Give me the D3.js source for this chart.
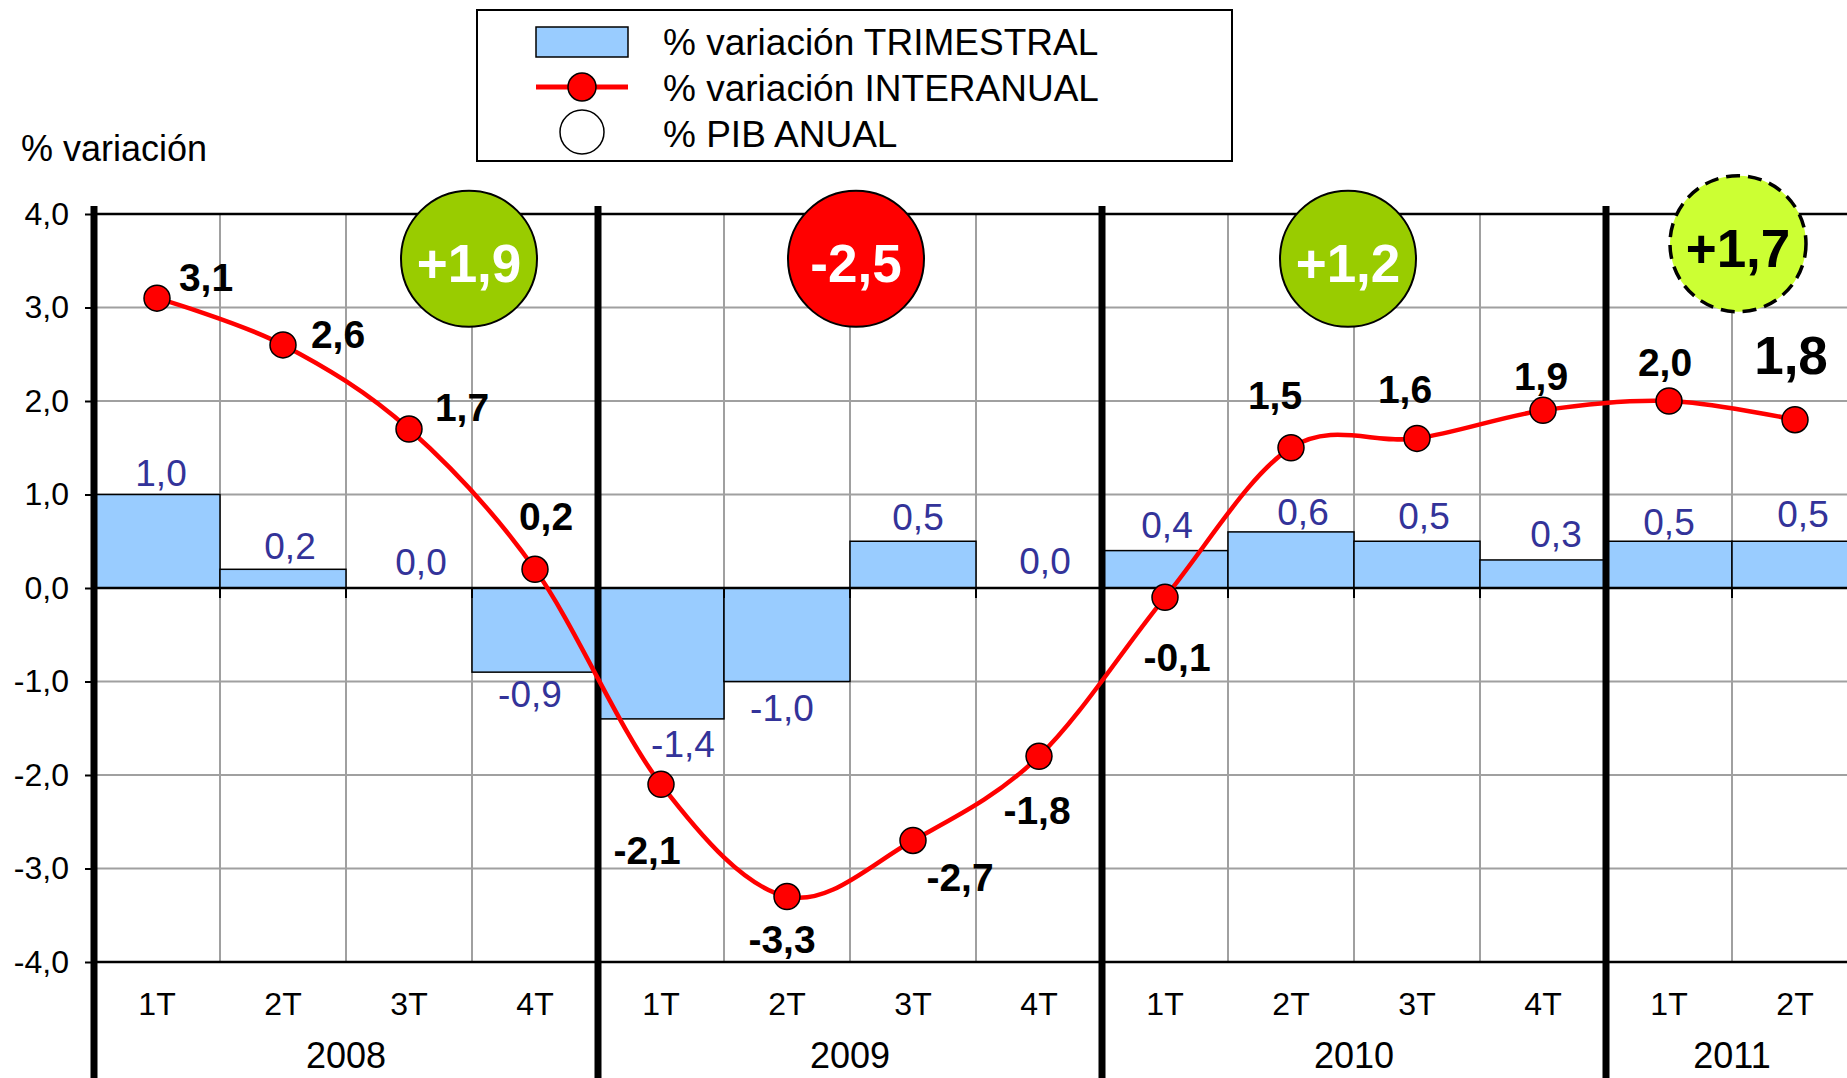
<!DOCTYPE html>
<meta charset="utf-8">
<style>
body { margin: 0; background: #fff; }
svg { display: block; font-family: "Liberation Sans", Arial, sans-serif; }
.grid line { stroke: #a0a0a0; stroke-width: 2px; }
.bar { fill: #99ccff; stroke: #000; stroke-width: 1.5px; }
.barlabel { fill: #333399; font-size: 37px; }
.linelabel { fill: #000; font-size: 39px; font-weight: bold; }
.tick text { font-size: 32px; }
</style>
<body>
<script src="https://d3js.org/d3.v7.min.js"></script>
<script>

// quarters and years
var quarters = ["1T", "2T", "3T", "4T", "1T", "2T", "3T", "4T", "1T", "2T", "3T", "4T", "1T", "2T"];
var quarterYear = ["2008", "2008", "2008", "2008", "2009", "2009", "2009", "2009",
                   "2010", "2010", "2010", "2010", "2011", "2011"];
var years = ["2008", "2009", "2010", "2011"];

// % variación TRIMESTRAL
var trimestral = [1.0, 0.2, 0.0, -0.9, -1.4, -1.0, 0.5, 0.0, 0.4, 0.6, 0.5, 0.3, 0.5, 0.5];
// % variación INTERANUAL
var interanual = [3.1, 2.6, 1.7, 0.2, -2.1, -3.3, -2.7, -1.8, -0.1, 1.5, 1.6, 1.9, 2.0, 1.8];
// % PIB ANUAL
var pibAnual = [1.9, -2.5, 1.2, 1.7];

var yTicks = [-4, -3, -2, -1, 0, 1, 2, 3, 4];

// label placement (pixels, from the point / bar end)
var lineLabelOffset = [[49, -21], [55, -11], [53, -22], [11, -53], [-14, 66], [-5, 42], [47, 37],
                       [-2, 54], [12, 60], [-16, -53], [-12, -49], [-2, -34], [-4, -39], [-4, -65]];
var barLabelOffset = [[4, -22], [7, -24], [12, -26], [-5, 22], [22, 25], [-5, 26], [5, -25],
                      [6, -27], [2, -26], [12, -20], [7, -26], [13, -26], [0, -20], [8, -28]];
// bubble: quarter index where it is centred, pixel nudges
var bubbleAt = [3, 6, 10, 13];
var bubbleDx = [-3, 6, -6, 6];
var bubbleDy = [-2, -2, -2, -17];
var bubbleFill = ["#99cc00", "#ff0000", "#99cc00", "#ccff33"];
var bubbleText = ["#fff", "#fff", "#fff", "#000"];

var width = 1847, height = 1078;

var es = d3.formatLocale({decimal: ",", thousands: ".", grouping: [3], currency: ["", "€"], minus: "-"});
var fmt = es.format(".1f");
var fmtSigned = es.format("+.1f");

var ids = quarters.map(function(q, i) { return quarterYear[i] + "-" + q; });

var x = d3.scaleBand().domain(ids).range([94, 1858]).padding(0);
var y = d3.scaleLinear().domain([-4, 4]).range([962, 214]);

var svg = d3.select("body").append("svg")
    .attr("width", width)
    .attr("height", height);

svg.append("rect").attr("width", width).attr("height", height).attr("fill", "#fff");

// gridlines
var grid = svg.append("g").attr("class", "grid");
grid.selectAll(".h").data(yTicks).enter().append("line")
    .attr("x1", x.range()[0]).attr("x2", width)
    .attr("y1", function(d) { return y(d); })
    .attr("y2", function(d) { return y(d); });
grid.selectAll(".v").data(ids.slice(1)).enter().append("line")
    .attr("x1", function(d) { return x(d); })
    .attr("x2", function(d) { return x(d); })
    .attr("y1", y(4)).attr("y2", y(-4));

// bars
svg.selectAll(".bar").data(trimestral).enter().append("rect")
    .attr("class", "bar")
    .attr("x", function(d, i) { return x(ids[i]); })
    .attr("width", x.bandwidth())
    .attr("y", function(d) { return y(Math.max(0, d)); })
    .attr("height", function(d) { return Math.abs(y(d) - y(0)); });

// black horizontal lines (top, zero, bottom)
svg.selectAll(".hb").data([4, 0, -4]).enter().append("line")
    .attr("x1", x.range()[0]).attr("x2", width)
    .attr("y1", function(d) { return y(d); })
    .attr("y2", function(d) { return y(d); })
    .attr("stroke", "#000").attr("stroke-width", 2.5);

// category ticks on the zero line
svg.selectAll(".ct").data(ids.slice(1)).enter().append("line")
    .attr("x1", function(d) { return x(d); })
    .attr("x2", function(d) { return x(d); })
    .attr("y1", y(0)).attr("y2", y(0) + 10)
    .attr("stroke", "#000").attr("stroke-width", 2);

// y axis
var yAxis = d3.axisLeft(y).tickValues(yTicks).tickFormat(fmt).tickSize(9).tickPadding(16);
var ya = svg.append("g")
    .attr("transform", "translate(" + x.range()[0] + ",0)")
    .call(yAxis);
ya.select(".domain").remove();
ya.selectAll(".tick line").attr("stroke", "#000").attr("stroke-width", 2);
ya.selectAll(".tick text").attr("fill", "#000");

// year separators (thick)
var sepX = [x.range()[0]];
years.slice(1).forEach(function(yr) { sepX.push(x(ids[quarterYear.indexOf(yr)])); });
svg.selectAll(".sep").data(sepX).enter().append("line")
    .attr("x1", function(d) { return d; })
    .attr("x2", function(d) { return d; })
    .attr("y1", y(4) - 8).attr("y2", height)
    .attr("stroke", "#000").attr("stroke-width", 7);

// quarter labels
svg.selectAll(".ql").data(quarters).enter().append("text")
    .attr("x", function(d, i) { return x(ids[i]) + x.bandwidth() / 2; })
    .attr("y", 1015)
    .attr("text-anchor", "middle")
    .style("font-size", "32px")
    .text(function(d) { return d; });

// year labels
svg.selectAll(".yl").data(years).enter().append("text")
    .attr("x", function(d) {
      var first = quarterYear.indexOf(d), last = quarterYear.lastIndexOf(d);
      return (x(ids[first]) + x(ids[last]) + x.bandwidth()) / 2;
    })
    .attr("y", 1068)
    .attr("text-anchor", "middle")
    .style("font-size", "36px")
    .text(function(d) { return d; });

// bar labels
svg.selectAll(".barlabel").data(trimestral).enter().append("text")
    .attr("class", "barlabel")
    .attr("text-anchor", "middle")
    .attr("dy", "0.36em")
    .attr("x", function(d, i) { return x(ids[i]) + x.bandwidth() / 2 + barLabelOffset[i][0]; })
    .attr("y", function(d, i) { return y(d) + barLabelOffset[i][1]; })
    .text(function(d) { return fmt(d); });

// interanual line
var line = d3.line()
    .x(function(d, i) { return x(ids[i]) + x.bandwidth() / 2; })
    .y(function(d) { return y(d); })
    .curve(d3.curveCardinal.tension(0));

svg.append("path")
    .datum(interanual)
    .attr("d", line)
    .attr("fill", "none")
    .attr("stroke", "#ff0000")
    .attr("stroke-width", 4.5);

svg.selectAll(".dot").data(interanual).enter().append("circle")
    .attr("cx", function(d, i) { return x(ids[i]) + x.bandwidth() / 2; })
    .attr("cy", function(d) { return y(d); })
    .attr("r", 13)
    .attr("fill", "#ff0000")
    .attr("stroke", "#000")
    .attr("stroke-width", 1.5);

svg.selectAll(".linelabel").data(interanual).enter().append("text")
    .attr("class", "linelabel")
    .attr("text-anchor", "middle")
    .attr("dy", "0.36em")
    .attr("x", function(d, i) { return x(ids[i]) + x.bandwidth() / 2 + lineLabelOffset[i][0]; })
    .attr("y", function(d, i) { return y(d) + lineLabelOffset[i][1]; })
    .style("font-size", function(d, i) { return i === interanual.length - 1 ? "53px" : null; })
    .text(function(d) { return fmt(d); });

// annual GDP bubbles
var bubble = svg.selectAll(".bubble").data(pibAnual).enter().append("g")
    .attr("transform", function(d, i) {
      return "translate(" + (x(ids[bubbleAt[i]]) + bubbleDx[i]) + "," + (y(3.5) + bubbleDy[i]) + ")";
    });
bubble.append("circle")
    .attr("r", 68)
    .attr("fill", function(d, i) { return bubbleFill[i]; })
    .attr("stroke", "#000")
    .attr("stroke-width", function(d, i) { return i === 3 ? 3.5 : 2; })
    .attr("stroke-dasharray", function(d, i) { return i === 3 ? "14,8" : null; });
bubble.append("text")
    .attr("text-anchor", "middle")
    .attr("dy", "0.43em")
    .style("font-size", "53px")
    .style("font-weight", "bold")
    .attr("fill", function(d, i) { return bubbleText[i]; })
    .text(function(d) { return fmtSigned(d); });

// y axis title
svg.append("text")
    .attr("x", 21).attr("y", 161)
    .style("font-size", "36px")
    .text("% variación");

// legend
var lg = svg.append("g");
lg.append("rect")
    .attr("x", 477).attr("y", 10).attr("width", 755).attr("height", 151)
    .attr("fill", "#fff").attr("stroke", "#000").attr("stroke-width", 2);
lg.append("rect")
    .attr("x", 536).attr("y", 27).attr("width", 92).attr("height", 30)
    .attr("class", "bar");
lg.append("line")
    .attr("x1", 536).attr("x2", 628).attr("y1", 87).attr("y2", 87)
    .attr("stroke", "#ff0000").attr("stroke-width", 5);
lg.append("circle")
    .attr("cx", 582).attr("cy", 87).attr("r", 14)
    .attr("fill", "#ff0000").attr("stroke", "#000").attr("stroke-width", 1.5);
lg.append("circle")
    .attr("cx", 582).attr("cy", 132).attr("r", 22)
    .attr("fill", "#fff").attr("stroke", "#000").attr("stroke-width", 1.5);
lg.selectAll(".lt")
    .data(["% variación TRIMESTRAL", "% variación INTERANUAL", "% PIB ANUAL"])
    .enter().append("text")
    .attr("x", 663)
    .attr("y", function(d, i) { return 55 + i * 46; })
    .style("font-size", "37px")
    .text(function(d) { return d; });

</script>
</body>
